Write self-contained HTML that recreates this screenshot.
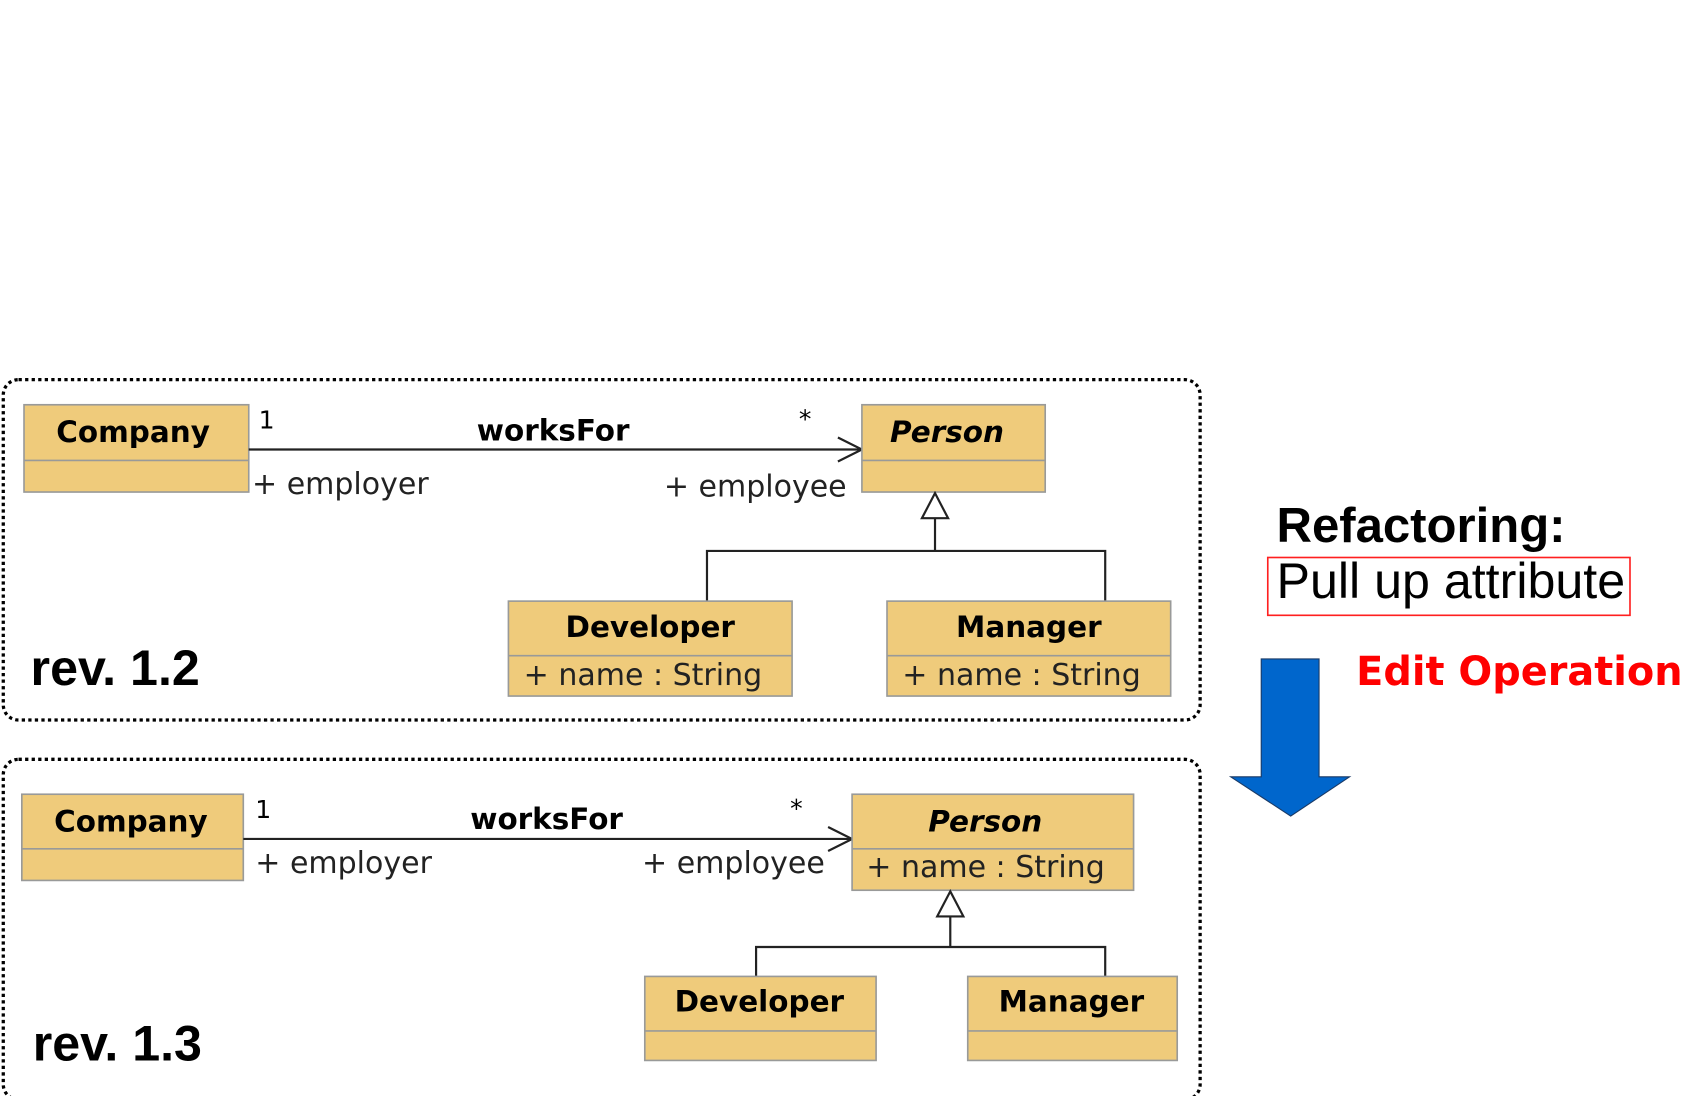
<!DOCTYPE html>
<html><head><meta charset="utf-8"><style>
html,body{margin:0;padding:0;background:#fff;}
svg{display:block;}
.u{font-family:"DejaVu Sans",sans-serif;}
.b{fill:#efcb7b;stroke:#999a99;stroke-width:1.5;}
.d{stroke:#999a99;stroke-width:1.5;}
</style></head><body>
<svg width="1702" height="1096" viewBox="0 0 1560 1004.6" preserveAspectRatio="none" xmlns="http://www.w3.org/2000/svg">
<rect x="0" y="0" width="1560" height="1005" fill="#fff"/>
<rect x="3" y="348" width="1097" height="312" rx="14" fill="none" stroke="#000" stroke-width="3" stroke-dasharray="3,3"/>
<rect x="3" y="696" width="1097" height="312" rx="14" fill="none" stroke="#000" stroke-width="3" stroke-dasharray="3,3"/>

<g class="u">
<rect class="b" x="22" y="371" width="206" height="80"/><line class="d" x1="22" y1="422" x2="228" y2="422"/>
<text x="122" y="405" font-size="27" font-weight="bold" text-anchor="middle">Company</text>
<line x1="228" y1="412" x2="790" y2="412" stroke="#222" stroke-width="2"/>
<polyline points="768,401 790,412 768,423" fill="none" stroke="#222" stroke-width="2"/>
<text x="237" y="393" font-size="23">1</text>
<text x="507" y="404" font-size="27" font-weight="bold" text-anchor="middle">worksFor</text>
<text x="738" y="392" font-size="23" text-anchor="middle">*</text>
<text x="231" y="453" font-size="27.5" fill="#222">+ employer</text>
<text x="776" y="455" font-size="27.5" fill="#222" text-anchor="end">+ employee</text>
<rect class="b" x="790" y="371" width="168" height="80"/><line class="d" x1="790" y1="422" x2="958" y2="422"/>
<text x="868" y="405" font-size="27" font-weight="bold" font-style="italic" text-anchor="middle">Person</text>
<polygon points="857,452 845,475 869,475" fill="#fff" stroke="#222" stroke-width="2"/>
<polyline points="857,475 857,505" fill="none" stroke="#222" stroke-width="2"/>
<polyline points="648,551 648,505 1013,505 1013,551" fill="none" stroke="#222" stroke-width="2"/>
<rect class="b" x="466" y="551" width="260" height="87"/><line class="d" x1="466" y1="601" x2="726" y2="601"/>
<text x="596" y="584" font-size="27" font-weight="bold" text-anchor="middle">Developer</text>
<text x="480" y="628" font-size="27.5" fill="#222">+ name : String</text>
<rect class="b" x="813" y="551" width="260" height="87"/><line class="d" x1="813" y1="601" x2="1073" y2="601"/>
<text x="943" y="584" font-size="27" font-weight="bold" text-anchor="middle">Manager</text>
<text x="827" y="628" font-size="27.5" fill="#222">+ name : String</text>

<rect class="b" x="20" y="728" width="203" height="79"/><line class="d" x1="20" y1="778" x2="223" y2="778"/>
<text x="120" y="762" font-size="27" font-weight="bold" text-anchor="middle">Company</text>
<line x1="223" y1="769" x2="781" y2="769" stroke="#222" stroke-width="2"/>
<polyline points="759,758 781,769 759,780" fill="none" stroke="#222" stroke-width="2"/>
<text x="234" y="750" font-size="23">1</text>
<text x="501" y="760" font-size="27" font-weight="bold" text-anchor="middle">worksFor</text>
<text x="730" y="749" font-size="23" text-anchor="middle">*</text>
<text x="234" y="800" font-size="27.5" fill="#222">+ employer</text>
<text x="756" y="800" font-size="27.5" fill="#222" text-anchor="end">+ employee</text>
<rect class="b" x="781" y="728" width="258" height="88"/><line class="d" x1="781" y1="778" x2="1039" y2="778"/>
<text x="903" y="762" font-size="27" font-weight="bold" font-style="italic" text-anchor="middle">Person</text>
<text x="794" y="804" font-size="27.5" fill="#222">+ name : String</text>
<polygon points="871,817 859,840 883,840" fill="#fff" stroke="#222" stroke-width="2"/>
<polyline points="871,840 871,868" fill="none" stroke="#222" stroke-width="2"/>
<polyline points="693,895 693,868 1013,868 1013,895" fill="none" stroke="#222" stroke-width="2"/>
<rect class="b" x="591" y="895" width="212" height="77"/><line class="d" x1="591" y1="945" x2="803" y2="945"/>
<text x="696" y="927" font-size="27" font-weight="bold" text-anchor="middle">Developer</text>
<rect class="b" x="887" y="895" width="192" height="77"/><line class="d" x1="887" y1="945" x2="1079" y2="945"/>
<text x="982" y="927" font-size="27" font-weight="bold" text-anchor="middle">Manager</text>

<text x="1243" y="628" font-size="36.5" font-weight="bold" fill="#ff0000">Edit Operation</text>
</g>

<g font-family="Liberation Sans, sans-serif">
<text x="28" y="628" font-size="46" font-weight="bold">rev. 1.2</text>
<text x="30" y="972" font-size="46" font-weight="bold">rev. 1.3</text>
<text x="1170" y="497" font-size="45" font-weight="bold">Refactoring:</text>
<rect x="1162" y="511" width="332" height="53" fill="none" stroke="#ff2020" stroke-width="1.5"/>
<text x="1170" y="548" font-size="46">Pull up attribute</text>
</g>
<polygon points="1156,604 1209,604 1209,712 1237,712 1183,748 1128,712 1156,712" fill="#0066cc" stroke="#1a3a66" stroke-width="1"/>
</svg>
</body></html>
